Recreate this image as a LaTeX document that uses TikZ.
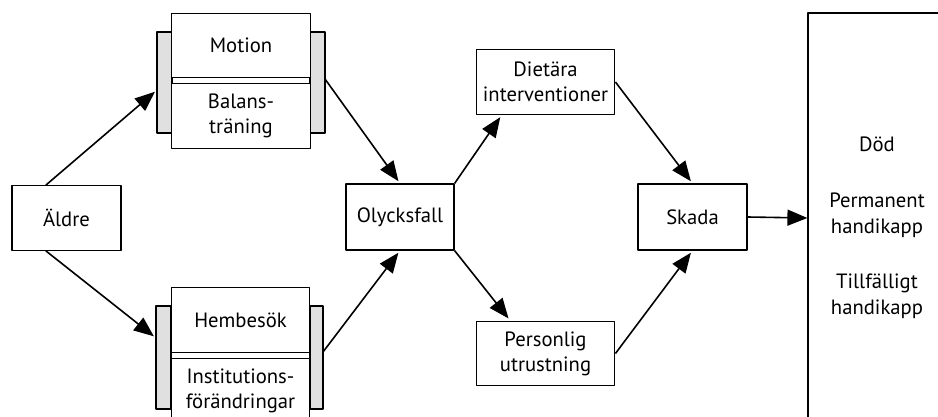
\documentclass[tikz,border=0pt]{standalone}
\usepackage{fontspec}
\setmainfont{PT Sans}
\usetikzlibrary{arrows.meta,positioning,calc}
\begin{document}
\begin{tikzpicture}[x=0.75pt, y=-0.75pt, line join=round, >={Triangle[length=15pt,width=12pt]},
    box/.style={draw, line width=0.9pt, fill=white, inner sep=0pt, align=center,
                minimum width=104pt, minimum height=48.5pt, font=\fontsize{15.5}{18.75}\selectfont},
    bar/.style={draw, line width=0.9pt, fill=black!12},
    pil/.style={->, line width=1.2pt, shorten >=2pt}]
    \useasboundingbox (0,0) rectangle (938,417);
    \clip (0,0) rectangle (938,417);
    % grå lister bakom grupperna
    \draw[bar] (157,32) rectangle (172,133);
    \draw[bar] (310,32) rectangle (325,133);
    \draw[bar] (156,306) rectangle (171,409);
    \draw[bar] (310,306) rectangle (323,409);
    % rutor
    \node[box, minimum width=81.75pt] (aldre) at (66.5,218) {Äldre};
    \node[box] (motion) at (241,45.5) {Motion};
    \node[box] (balans) at (241,116) {Balans-\\träning};
    \node[box] (hembesok) at (240.5,320) {Hembesök};
    \node[box] (inst) at (240.5,390.5) {Institutions-\\förändringar};
    \node[box, minimum width=81pt, minimum height=49.5pt] (olycks) at (400,217) {Olycksfall};
    \node[box] (dietara) at (545.5,82) {Dietära\\interventioner};
    \node[box] (personlig) at (545.5,353.5) {Personlig\\utrustning};
    \node[box, minimum width=81.75pt, minimum height=49.5pt] (skada) at (692.5,217) {Skada};
    \node[box, minimum width=103.5pt, minimum height=307.5pt] (utfall) at (877,218) {};
    \node[align=center, inner sep=0pt, font=\fontsize{15.5}{19.5}\selectfont] (utfalltext) at (877,228)
        {Död\\[22pt]Permanent\\handikapp\\[22pt]Tillfälligt\\handikapp};
    % pilar
    \coordinate (motut) at (325,79);
    \coordinate (motin) at (157,90);
    \coordinate (hemut) at (323,352);
    \coordinate (hemin) at (156,338);
    \draw[pil] (aldre.122) -- (motin);
    \draw[pil] (aldre.238) -- (hemin);
    \draw[pil] (motut) -- (olycks.north);
    \draw[pil] (hemut) -- (olycks.south);
    \draw[pil] (olycks.north east) -- (dietara.217);
    \draw[pil] (olycks.south east) -- (personlig.137);
    \draw[pil] (dietara.east) -- (skada.north);
    \draw[pil] (personlig.east) -- (skada.south);
    \draw[pil, shorten >=0pt] (skada.east) -- (utfall.west);
\end{tikzpicture}
\end{document}
